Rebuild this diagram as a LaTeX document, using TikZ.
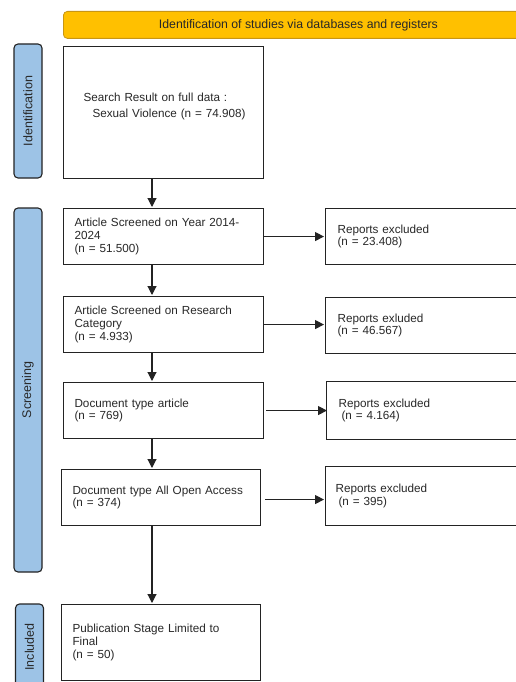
\documentclass[tikz,border=0pt]{standalone}
\usepackage{fontspec}
\setmainfont{Liberation Sans}
\usetikzlibrary{arrows.meta}
\definecolor{hdr}{RGB}{255,192,0}
\definecolor{hdrline}{RGB}{200,150,20}
\definecolor{sideblue}{RGB}{157,195,230}
\definecolor{boxline}{RGB}{35,35,35}
\definecolor{txt}{RGB}{40,40,40}
\begin{document}
\begin{tikzpicture}[x=1pt,y=-1pt,
  box/.style={draw=boxline, line width=1.1pt, fill=white, anchor=north west,
    align=left, inner xsep=11pt, inner ysep=0pt, text=txt,
    font=\fontsize{11.7}{12.6}\selectfont},
  side/.style={draw=boxline, line width=1.1pt, fill=sideblue, rounded corners=4pt,
    rotate=90, minimum height=28pt, inner sep=0pt, text=txt,
    font=\fontsize{12.5}{14}\selectfont},
  arr/.style={-{Triangle[length=9pt,width=9pt]}, line width=1.1pt, draw=boxline, shorten >=1pt}]
\useasboundingbox (0,0) rectangle (516,682);
\clip (0,0) rectangle (516,682);
\fill[white] (0,0) rectangle (516,682);

% header
\node[draw=hdrline, line width=0.8pt, fill=hdr, rounded corners=4pt, anchor=north west,
  minimum width=470pt, minimum height=27pt, inner sep=0pt, text=txt,
  font=\fontsize{12.3}{14}\selectfont] (hdr) at (63,11)
  {Identification of studies via databases and registers};

% side bars
\node[side, minimum width=134pt] (sid) at (28,111) {Identification};
\node[side, minimum width=364pt] (sscr) at (28,390) {Screening};
\node[side, minimum width=86pt] (sinc) at (29.5,647) {Included};

% main boxes
\node[box, text width=178pt, minimum height=132pt] (b1) at (63,46)
  {\hspace*{9pt}Search Result on full data :\\[3pt]\hspace*{18pt}Sexual Violence (n = 74.908)\\[2pt]\mbox{}};
\node[box, text width=178pt, minimum height=56pt] (b2) at (63,208)
  {Article Screened on Year 2014-\\2024\\(n = 51.500)};
\node[box, text width=178pt, minimum height=56pt] (b3) at (63,296)
  {Article Screened on Research\\Category\\(n = 4.933)};
\node[box, text width=178pt, minimum height=56pt] (b4) at (63,382)
  {Document type article\\(n = 769)};
\node[box, text width=177pt, minimum height=56pt] (b5) at (61,469)
  {Document type All Open Access\\(n = 374)};
\node[box, text width=177pt, minimum height=76pt] (b6) at (61,604)
  {Publication Stage Limited to\\Final\\(n = 50)};

% excluded boxes
\node[box, inner xsep=12pt, text width=176pt, minimum height=56pt] (e1) at (325,208)
  {Reports excluded\\(n = 23.408)};
\node[box, inner xsep=12pt, text width=176pt, minimum height=56pt] (e2) at (325,297)
  {Reports exluded\\(n = 46.567)};
\node[box, inner xsep=12pt, text width=176pt, minimum height=58pt] (e3) at (326,381)
  {Reports excluded\\\hspace*{3pt}(n = 4.164)};
\node[box, inner xsep=10pt, text width=180pt, minimum height=59pt] (e4) at (325,466)
  {Reports excluded\\\hspace*{3pt}(n = 395)};

% connectors
\coordinate (ax) at (152,0);
\draw[arr] (b1.south -| ax) -- (b2.north -| ax);
\draw[arr] (b2.south -| ax) -- (b3.north -| ax);
\draw[arr] (b3.south -| ax) -- (b4.north -| ax);
\draw[arr] (b4.south -| ax) -- (b5.north -| ax);
\draw[arr] (b5.south -| ax) -- (b6.north -| ax);

\draw[arr] (b2.east) -- (b2.east -| e1.west);
\draw[arr] (b3.east) -- (b3.east -| e2.west);
\draw[arr] ([xshift=2pt]b4.east) -- ([xshift=2pt]b4.east -| e3.west);
\draw[arr] ([xshift=4pt,yshift=-2pt]b5.east) -- ([yshift=-2pt]b5.east -| e4.west);
\end{tikzpicture}
\end{document}
